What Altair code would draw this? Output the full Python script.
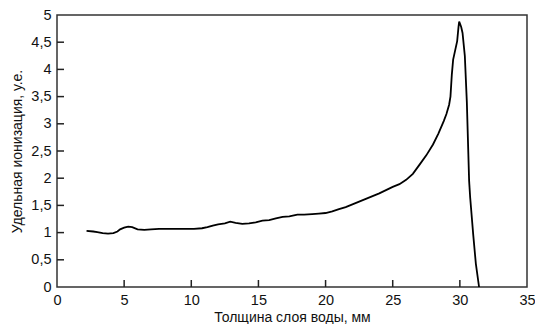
import altair as alt
import pandas as pd

depth = [2.2, 2.7, 3.0, 3.4, 3.8, 4.2, 4.5, 4.7, 5.0, 5.3, 5.6, 6.0, 6.5, 7.0, 7.6,
         8.2, 9.0, 9.6, 10.2, 10.8, 11.2, 11.6, 12.0, 12.5, 12.9, 13.3, 13.8, 14.3,
         14.8, 15.3, 15.8, 16.3, 16.8, 17.3, 17.9, 18.4, 19.0, 19.5, 20.0, 20.5,
         21.0, 21.5, 22.0, 22.5, 23.0, 23.5, 24.0, 24.5, 25.0, 25.5, 26.0, 26.5,
         27.0, 27.5, 28.0, 28.4, 28.8, 29.0, 29.2, 29.3, 29.4, 29.5, 29.65, 29.8,
         29.9, 29.95, 30.1, 30.2, 30.37, 30.52, 30.69, 30.77, 31.0, 31.19, 31.43]
ionization = [1.03, 1.02, 1.01, 0.99, 0.98, 0.99, 1.02, 1.06, 1.09, 1.11, 1.10, 1.06,
              1.05, 1.06, 1.07, 1.07, 1.07, 1.07, 1.07, 1.08, 1.10, 1.13, 1.15, 1.17,
              1.20, 1.18, 1.16, 1.17, 1.19, 1.22, 1.23, 1.26, 1.29, 1.30, 1.33, 1.33,
              1.34, 1.35, 1.36, 1.39, 1.43, 1.47, 1.52, 1.57, 1.62, 1.67, 1.72, 1.78,
              1.84, 1.89, 1.97, 2.08, 2.25, 2.42, 2.62, 2.82, 3.05, 3.18, 3.35, 3.50,
              3.90, 4.18, 4.35, 4.52, 4.78, 4.88, 4.78, 4.67, 4.25, 3.40, 1.95, 1.64,
              0.95, 0.43, 0.0]

x_ticks = [0, 5, 10, 15, 20, 25, 30, 35]
y_ticks = [0, 0.5, 1, 1.5, 2, 2.5, 3, 3.5, 4, 4.5, 5]
x_title = "Толщина слоя воды, мм"
y_title = "Удельная ионизация, у.е."

W, H = 470, 272
FONT = "Liberation Sans"

df = pd.DataFrame({"x": depth, "y": ionization})
xs = alt.Scale(domain=[0, 35], nice=False)
ys = alt.Scale(domain=[0, 5], nice=False)

common = dict(ticks=False, domain=False, grid=False, labelFontSize=14.5,
              labelColor="#111", labelFont=FONT, titleFont=FONT, titleFontSize=14,
              titleFontWeight="normal", titleColor="#111",
              labelOverlap=False, labelFlush=False)
x_axis = alt.Axis(values=x_ticks, labelPadding=6, titlePadding=4, **common)
y_axis = alt.Axis(values=y_ticks, labelPadding=6, titlePadding=6,
                  labelExpr="replace(toString(datum.value), '.', ',')", **common)

line = alt.Chart(df).mark_line(color="black", strokeWidth=1.8).encode(
    x=alt.X("x:Q", scale=xs, axis=x_axis, title=x_title),
    y=alt.Y("y:Q", scale=ys, axis=y_axis, title=y_title),
)

xt = alt.Chart(pd.DataFrame({"x": x_ticks[1:-1]})).mark_rule(color="#222", strokeWidth=1.5).encode(
    x=alt.X("x:Q", scale=xs, axis=x_axis, title=x_title), y=alt.value(H), y2=alt.value(H - 7))
yt = alt.Chart(pd.DataFrame({"y": y_ticks[1:-1]})).mark_rule(color="#222", strokeWidth=1.5).encode(
    y=alt.Y("y:Q", scale=ys, axis=y_axis, title=y_title), x=alt.value(0), x2=alt.value(7))

chart = alt.layer(line, xt, yt).properties(
    width=W, height=H,
    background="white",
    autosize=alt.AutoSizeParams(type="none"),
    padding={"left": 49, "top": 7, "right": 8, "bottom": 37},
).configure_view(stroke="#333", strokeWidth=1.5)

chart.save("out.html", embed_options={"renderer": "svg", "actions": False})
